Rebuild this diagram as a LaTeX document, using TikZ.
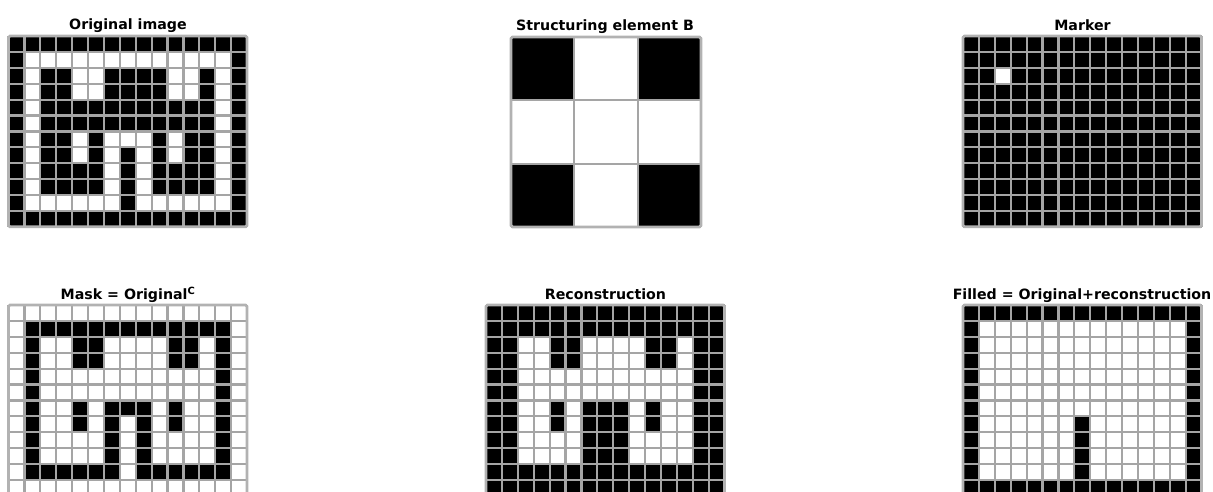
\documentclass[tikz,border=0pt]{standalone}
\usepackage{fontspec}
\setmainfont{DejaVu Sans}
\usepackage{tikz}
\definecolor{gridgray}{RGB}{165,165,165}

%% binary image: x0, y0, cell, cols, rows, data (1 = black)
\newcommand{\bingrid}[6]{%
  \begin{scope}[shift={(#1,#2)}]
    \fill[white] (0,0) rectangle ({#4*#3},{#5*#3});
    \foreach \gridrow [count=\ri] in {#6} {
      \foreach \cellval [count=\ci] in \gridrow {
        \ifnum\cellval=1
          \fill[black] ({(\ci-1)*#3},{(\ri-1)*#3}) rectangle ++(#3,#3);
        \fi
      }
    }
    \foreach \i in {0,...,#4}
      \draw[cellline] ({\i*#3},0) -- ({\i*#3},{#5*#3});
    \foreach \j in {0,...,#5}
      \draw[cellline] (0,{\j*#3}) -- ({#4*#3},{\j*#3});
    \draw[frameline] (0,0) rectangle ({#4*#3},{#5*#3});
  \end{scope}}

\begin{document}
\begin{tikzpicture}[
    x=1pt, y=-1pt,
    ttl/.style={font=\fontsize{14.2}{16}\selectfont\bfseries, anchor=base, inner sep=0pt},
    cellline/.style={draw=gridgray, line width=2.2pt},
    frameline/.style={draw=gridgray!85, line width=2.8pt, rounded corners=1.5pt}
]

\useasboundingbox (0,0) rectangle (1213,491);
\clip (0,0) rectangle (1213,491);

%% Titles
\node[ttl] (ttlorig)   at (128, 29.5)   {Original image};
\node[ttl] (ttlse)     at (605, 30)     {Structuring element B};
\node[ttl] (ttlmarker) at (1082.5, 30)  {Marker};
\node[ttl] (ttlmask)   at (128, 299.3)  {Mask = Original\textsuperscript{C}};
\node[ttl] (ttlrec)    at (605.5, 299)  {Reconstruction};
\node[ttl] (ttlfilled) at (1082, 299.3) {Filled = Original+reconstruction};

%% Original image
\bingrid{8.5}{36}{15.9}{15}{12}{
  {1,1,1,1,1,1,1,1,1,1,1,1,1,1,1},
  {1,0,0,0,0,0,0,0,0,0,0,0,0,0,1},
  {1,0,1,1,0,0,1,1,1,1,0,0,1,0,1},
  {1,0,1,1,0,0,1,1,1,1,0,0,1,0,1},
  {1,0,1,1,1,1,1,1,1,1,1,1,1,0,1},
  {1,0,1,1,1,1,1,1,1,1,1,1,1,0,1},
  {1,0,1,1,0,1,0,0,0,1,0,1,1,0,1},
  {1,0,1,1,0,1,0,1,0,1,0,1,1,0,1},
  {1,0,1,1,1,1,0,1,0,1,1,1,1,0,1},
  {1,0,1,1,1,1,0,1,0,1,1,1,1,0,1},
  {1,0,0,0,0,0,0,1,0,0,0,0,0,0,1},
  {1,1,1,1,1,1,1,1,1,1,1,1,1,1,1}}

%% Structuring element
\bingrid{511}{37}{63.3}{3}{3}{
  {1,0,1},
  {0,0,0},
  {1,0,1}}

%% Marker
\bingrid{963}{36}{15.9}{15}{12}{
  {1,1,1,1,1,1,1,1,1,1,1,1,1,1,1},
  {1,1,1,1,1,1,1,1,1,1,1,1,1,1,1},
  {1,1,0,1,1,1,1,1,1,1,1,1,1,1,1},
  {1,1,1,1,1,1,1,1,1,1,1,1,1,1,1},
  {1,1,1,1,1,1,1,1,1,1,1,1,1,1,1},
  {1,1,1,1,1,1,1,1,1,1,1,1,1,1,1},
  {1,1,1,1,1,1,1,1,1,1,1,1,1,1,1},
  {1,1,1,1,1,1,1,1,1,1,1,1,1,1,1},
  {1,1,1,1,1,1,1,1,1,1,1,1,1,1,1},
  {1,1,1,1,1,1,1,1,1,1,1,1,1,1,1},
  {1,1,1,1,1,1,1,1,1,1,1,1,1,1,1},
  {1,1,1,1,1,1,1,1,1,1,1,1,1,1,1}}

%% Mask
\bingrid{8.5}{305}{15.9}{15}{12}{
  {0,0,0,0,0,0,0,0,0,0,0,0,0,0,0},
  {0,1,1,1,1,1,1,1,1,1,1,1,1,1,0},
  {0,1,0,0,1,1,0,0,0,0,1,1,0,1,0},
  {0,1,0,0,1,1,0,0,0,0,1,1,0,1,0},
  {0,1,0,0,0,0,0,0,0,0,0,0,0,1,0},
  {0,1,0,0,0,0,0,0,0,0,0,0,0,1,0},
  {0,1,0,0,1,0,1,1,1,0,1,0,0,1,0},
  {0,1,0,0,1,0,1,0,1,0,1,0,0,1,0},
  {0,1,0,0,0,0,1,0,1,0,0,0,0,1,0},
  {0,1,0,0,0,0,1,0,1,0,0,0,0,1,0},
  {0,1,1,1,1,1,1,0,1,1,1,1,1,1,0},
  {0,0,0,0,0,0,0,0,0,0,0,0,0,0,0}}

%% Reconstruction
\bingrid{486}{305}{15.9}{15}{12}{
  {1,1,1,1,1,1,1,1,1,1,1,1,1,1,1},
  {1,1,1,1,1,1,1,1,1,1,1,1,1,1,1},
  {1,1,0,0,1,1,0,0,0,0,1,1,0,1,1},
  {1,1,0,0,1,1,0,0,0,0,1,1,0,1,1},
  {1,1,0,0,0,0,0,0,0,0,0,0,0,1,1},
  {1,1,0,0,0,0,0,0,0,0,0,0,0,1,1},
  {1,1,0,0,1,0,1,1,1,0,1,0,0,1,1},
  {1,1,0,0,1,0,1,1,1,0,1,0,0,1,1},
  {1,1,0,0,0,0,1,1,1,0,0,0,0,1,1},
  {1,1,0,0,0,0,1,1,1,0,0,0,0,1,1},
  {1,1,1,1,1,1,1,1,1,1,1,1,1,1,1},
  {1,1,1,1,1,1,1,1,1,1,1,1,1,1,1}}

%% Filled
\bingrid{963}{305}{15.9}{15}{12}{
  {1,1,1,1,1,1,1,1,1,1,1,1,1,1,1},
  {1,0,0,0,0,0,0,0,0,0,0,0,0,0,1},
  {1,0,0,0,0,0,0,0,0,0,0,0,0,0,1},
  {1,0,0,0,0,0,0,0,0,0,0,0,0,0,1},
  {1,0,0,0,0,0,0,0,0,0,0,0,0,0,1},
  {1,0,0,0,0,0,0,0,0,0,0,0,0,0,1},
  {1,0,0,0,0,0,0,0,0,0,0,0,0,0,1},
  {1,0,0,0,0,0,0,1,0,0,0,0,0,0,1},
  {1,0,0,0,0,0,0,1,0,0,0,0,0,0,1},
  {1,0,0,0,0,0,0,1,0,0,0,0,0,0,1},
  {1,0,0,0,0,0,0,1,0,0,0,0,0,0,1},
  {1,1,1,1,1,1,1,1,1,1,1,1,1,1,1}}

\end{tikzpicture}
\end{document}
